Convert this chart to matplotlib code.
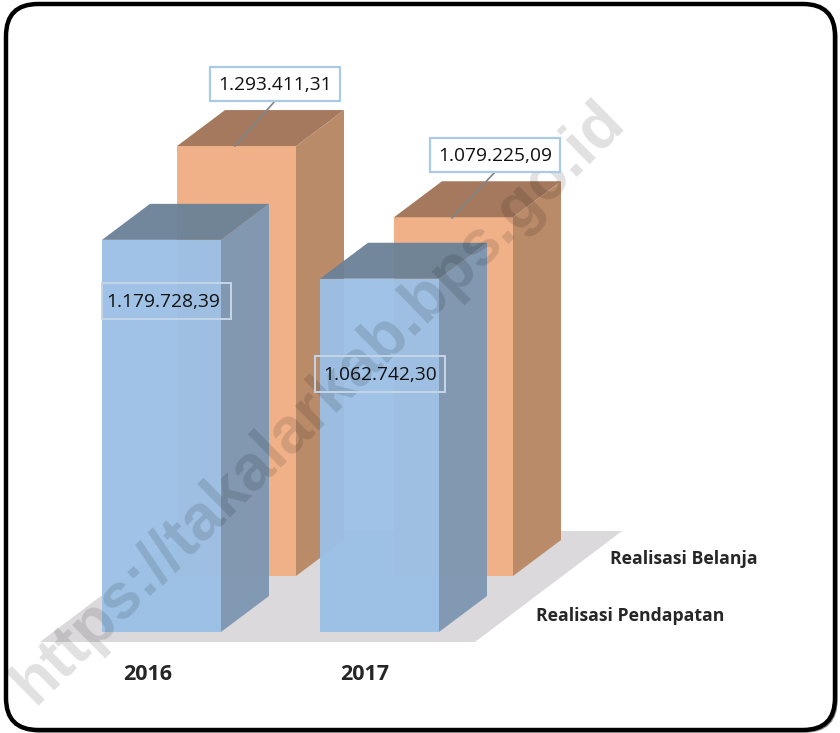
import matplotlib
matplotlib.use('Agg')
import matplotlib.pyplot as plt
from matplotlib.patches import Polygon, FancyBboxPatch

years = ['2016', '2017']
pendapatan = [1179728.39, 1062742.30]
belanja = [1293411.31, 1079225.09]
pendapatan_labels = ['1.179.728,39', '1.062.742,30']
belanja_labels = ['1.293.411,31', '1.079.225,09']
series_names = ['Realisasi Pendapatan', 'Realisasi Belanja']

plt.rcParams['font.family'] = ['Open Sans', 'DejaVu Sans']

# how many pixels one rupiah unit takes, and where zero sits
k = 3.324e-4
base_px = 632

fig = plt.figure(figsize=(8.4, 7.33), dpi=100)

# background frame sits below the bars
bg = fig.add_axes([0, 0, 1, 1], zorder=0)
bg.set_xlim(0, 840)
bg.set_ylim(733, 0)
bg.axis('off')

ax = fig.add_axes([0, 0, 1, 1], zorder=1)
ax.set_xlim(0, 840)
ax.set_ylim(-(733 - base_px) / k, base_px / k)
ax.axis('off')

# overlay in pixel coords for texts and watermark
top = fig.add_axes([0, 0, 1, 1], zorder=5)
top.set_xlim(0, 840)
top.set_ylim(733, 0)
top.axis('off')


def box3d(left, bottom, value, front, side, roof, alpha, z):
    w = 119
    dx = 48
    dy = 36 / k
    ax.bar(left, value, width=w, bottom=bottom, align='edge', color=front,
           alpha=alpha, zorder=z, linewidth=0)
    t = bottom + value
    ax.add_patch(Polygon([(left + w, bottom), (left + w + dx, bottom + dy),
                          (left + w + dx, t + dy), (left + w, t)],
                         facecolor=side, alpha=alpha, zorder=z, linewidth=0))
    ax.add_patch(Polygon([(left, t), (left + dx, t + dy), (left + w + dx, t + dy),
                          (left + w, t)],
                         facecolor=roof, alpha=alpha, zorder=z, linewidth=0))


# floor
ax.add_patch(Polygon([(40, -10 / k), (475, -10 / k), (622, 101 / k), (187, 101 / k)],
                     facecolor='#DBD9DB', linewidth=0, zorder=1))

# back row then front row
back_x = [177, 394]
front_x = [102, 320]
back_base = 56 / k
for i in range(2):
    box3d(back_x[i], back_base, belanja[i], '#F0B188', '#BA8B69', '#A5795D', 1, 2 + i)
for i in range(2):
    box3d(front_x[i], 0, pendapatan[i], '#9BC0E5', '#7D97B2', '#6C8297', 0.96, 5 + i)

# frame with shadow
bg.add_patch(FancyBboxPatch((8, 6), 829, 726, boxstyle='round,pad=0,rounding_size=32',
                            facecolor='#8C8C8C', edgecolor='#8C8C8C', linewidth=1, zorder=1))
bg.add_patch(FancyBboxPatch((6, 4), 829, 726, boxstyle='round,pad=0,rounding_size=32',
                            facecolor='white', edgecolor='black', linewidth=3.2, zorder=2))

# watermark
top.text(319, 403, 'https://takalarkab.bps.go.id', rotation=44.5, ha='center', va='center',
         rotation_mode='anchor', fontsize=46, fontweight='bold', family='Liberation Sans',
         color='black', alpha=0.12, zorder=3)

# value labels
box_b = [(210, 67), (430, 138)]
tip_b = [(235, 146), (452, 218)]
for i in range(2):
    x, y = box_b[i]
    top.plot([x + 65, tip_b[i][0]], [y + 34, tip_b[i][1]], color='#7F8588', lw=1.2, zorder=4)
    top.add_patch(plt.Rectangle((x, y), 130, 34, facecolor='white', edgecolor='#A9CBE8',
                                linewidth=1.6, zorder=5))
    top.text(x + 65, y + 18, belanja_labels[i], ha='center', va='center', fontsize=13.8,
             color='#111111', zorder=6)

box_p = [(102, 283), (315, 356)]
text_p = [163, 380]
for i in range(2):
    x, y = box_p[i]
    top.add_patch(plt.Rectangle((x, y), 129 if i == 0 else 130, 36, facecolor='none',
                                edgecolor='#C4D6E8', linewidth=1.4, zorder=5))
    top.text(text_p[i], y + 19, pendapatan_labels[i], ha='center',
             va='center', fontsize=13.8, color='#111111', zorder=6)

# axis labels
for name, x in zip(years, [148, 365]):
    top.text(x, 674, name, ha='center', va='center', fontsize=15.5, fontweight='bold',
             color='#262626')
top.text(536, 616, series_names[0], ha='left', va='center', fontsize=12.7, fontweight='bold',
         color='#262626')
top.text(610, 559, series_names[1], ha='left', va='center', fontsize=12.7, fontweight='bold',
         color='#262626')

fig.savefig('out.png', dpi=100, facecolor='white')
